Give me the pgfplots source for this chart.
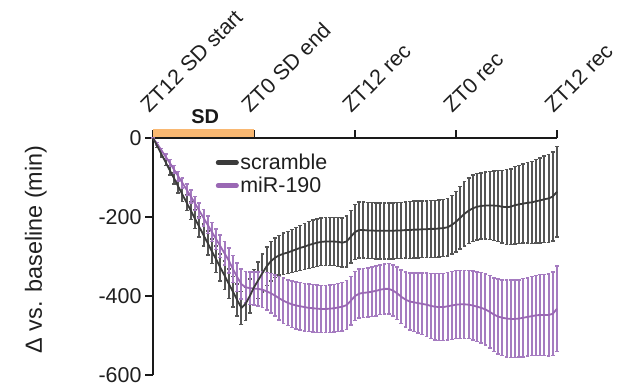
\documentclass[border=0pt]{standalone}
\usepackage{fontspec}
\setmainfont{Liberation Sans}
\usepackage{pgfplots}
\pgfplotsset{compat=1.18}
\usepackage{pgfplotstable}
\definecolor{scrline}{HTML}{3B3B3B}
\definecolor{scrbar}{HTML}{555555}
\definecolor{mirline}{HTML}{9A68B4}
\definecolor{mirbar}{HTML}{A57BC0}
\definecolor{sdorange}{HTML}{F9B872}
\definecolor{axcol}{HTML}{1A1A1A}

\pgfplotstableread{
t s es p ep
0 0 0 0 0
0.5 -20 4 -15 3
1 -41 7 -31 5
1.5 -61 9 -47 7
2 -82 12 -63 9
2.5 -102 14 -80 10
3 -123 16 -97 12
3.5 -143 18 -114 13
4 -164 20 -131 15
4.5 -184 22 -148 16
5 -205 24 -166 18
5.5 -225 26 -184 19
6 -246 28 -202 21
6.5 -266 30 -220 22
7 -287 31 -238 24
7.5 -307 33 -256 26
8 -328 34 -274 28
8.5 -348 36 -292 30
9 -369 37 -310 32
9.5 -389 39 -332 34
10 -410 40 -352 36
10.5 -430 42 -370 38
11 -420 42 -378 40
11.5 -400 43 -380 41
12 -378 45 -381 42
12.5 -360 46 -382 43
13 -342 48 -384 45
13.5 -325 49 -388 47
14 -312 50 -393 50
14.5 -303 50 -399 52
15 -297 50 -406 55
15.5 -293 52 -412 57
16 -290 53 -417 58
16.5 -286 55 -421 59
17 -282 56 -424 60
17.5 -278 57 -426 60
18 -275 58 -428 60
18.5 -271 59 -430 60
19 -268 60 -431 60
19.5 -265 60 -432 60
20 -263 60 -433 60
20.5 -262 61 -433 60
21 -262 61 -432 60
21.5 -262 61 -431 60
22 -263 62 -429 61
22.5 -265 62 -427 61
23 -262 64 -423 62
23.5 -250 67 -412 62
24 -238 70 -400 62
24.5 -233 71 -394 62
25 -233 71 -392 62
25.5 -234 71 -391 62
26 -234 71 -389 63
26.5 -235 71 -387 63
27 -235 71 -384 63
27.5 -235 71 -382 63
28 -235 71 -382 64
28.5 -235 71 -386 65
29 -234 71 -393 66
29.5 -234 71 -402 68
30 -233 71 -409 70
30.5 -233 72 -414 72
31 -232 72 -416 74
31.5 -232 72 -418 76
32 -231 72 -420 78
32.5 -231 72 -422 80
33 -230 72 -425 82
33.5 -230 72 -427 84
34 -229 72 -428 85
34.5 -228 72 -428 85
35 -226 73 -426 86
35.5 -220 74 -424 86
36 -212 76 -422 86
36.5 -202 79 -421 86
37 -192 82 -421 86
37.5 -184 83 -422 86
38 -178 84 -424 87
38.5 -174 84 -427 88
39 -172 84 -430 89
39.5 -171 85 -434 90
40 -171 86 -440 92
40.5 -171 88 -447 93
41 -172 90 -452 95
41.5 -174 92 -455 96
42 -175 95 -457 97
42.5 -174 96 -458 98
43 -170 98 -458 98
43.5 -168 99 -457 98
44 -166 100 -455 99
44.5 -164 102 -453 99
45 -163 104 -451 100
45.5 -160 106 -449 101
46 -158 108 -448 102
46.5 -155 109 -448 103
47 -153 111 -448 104
47.5 -148 113 -445 106
48 -136 115 -432 108
}\data

\begin{document}
\begin{tikzpicture}[x=1bp,y=1bp]
\path[use as bounding box] (0,0) rectangle (624,384);
\begin{axis}[
  at={(153bp,9bp)}, anchor=south west,
  scale only axis, width=404bp, height=237bp,
  xmin=0, xmax=48, ymin=-600, ymax=0,
  axis x line=top, axis y line=left,
  axis line style={-, line width=2.4bp, color=axcol},
  xtick={0,12,24,36,48},
  xticklabels={ZT12 SD start, ZT0 SD end, ZT12 rec, ZT0 rec, ZT12 rec},
  ytick={0,-200,-400,-600},
  yticklabels={0,-200,-400,-600},
  tick align=outside,
  major tick length=8bp,
  tick style={line width=2bp, color=axcol},
  ticklabel style={font=\fontsize{21.5}{24}\selectfont, text=black!88},
  xticklabel style={xshift=-6bp, yshift=14bp, rotate=45, anchor=base west},
  every axis y label/.style={at={(axis description cs:-0.29,0.53)}, rotate=90, anchor=center},
  ylabel={Δ vs. baseline (min)},
  label style={font=\fontsize{23.5}{26}\selectfont, text=black!88},
  clip=false,
  reverse legend,
  legend cell align=left,
  legend style={at={(axis description cs:0.155,0.939)}, anchor=north west, draw=none, fill=none,
    font=\fontsize{21.5}{24}\selectfont, text=black!88, row sep=3bp, inner sep=0pt,
    nodes={inner sep=1.5bp}},
  legend image code/.code={\draw[#1, line width=4.6bp, line cap=round] (0cm,0cm) -- (0.65cm,0cm);},
]
\addplot[draw=none, mark=none, forget plot,
  error bars/.cd, y dir=both, y explicit, error mark=-,
  error bar style={draw=scrbar, line width=2bp},
  error mark options={rotate=90, draw=scrbar, line width=1.5bp, mark size=1.9bp}]
  table[x=t, y=s, y error=es]{\data};
\addplot[draw=none, mark=none, forget plot,
  error bars/.cd, y dir=both, y explicit, error mark=-,
  error bar style={draw=mirbar, line width=2bp},
  error mark options={rotate=90, draw=mirbar, line width=1.5bp, mark size=1.9bp}]
  table[x=t, y=p, y error=ep]{\data};
\addplot[mirline, line width=1.8bp, mark=none, line join=round] table[x=t, y=p]{\data};
\addlegendentry{miR-190}
\addplot[scrline, line width=1.8bp, mark=none, line join=round] table[x=t, y=s]{\data};
\addlegendentry{scramble}
\fill[sdorange] ([yshift=1.3bp]axis cs:0,0) rectangle ([yshift=9.5bp]axis cs:12,0);
\node[font=\bfseries\fontsize{20}{22}\selectfont, text=black!90] at ([yshift=21bp]axis cs:6.2,0) {SD};
\end{axis}
\end{tikzpicture}
\end{document}
